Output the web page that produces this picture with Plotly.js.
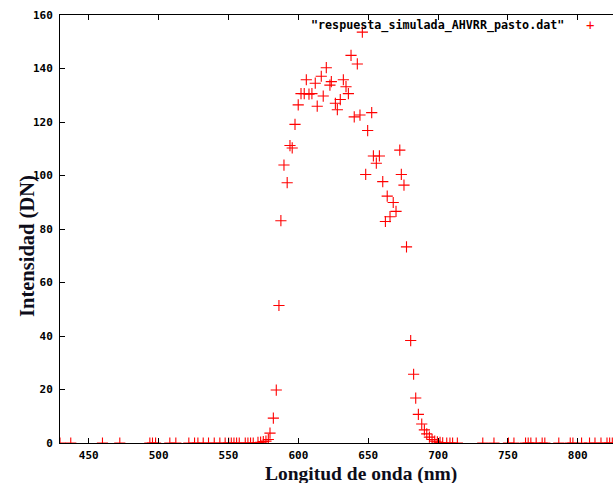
<!DOCTYPE html>
<html>
<head>
<meta charset="utf-8">
<script src="https://cdn.plot.ly/plotly-3.0.1.min.js"></script>
<style>html,body{margin:0;padding:0;background:#fff;}#chart{width:613px;height:483px;}</style>
</head>
<body>
<div id="chart"></div>
<script>
// Wavelength (nm)
const wavelength = [
  429.4, 437.1, 459.8, 472.2, 493.7, 495.6, 497.8, 508.0, 512.3, 521.6,
  525.7, 528.1, 531.9, 535.7, 539.8, 543.8, 547.6, 550.1, 552.0, 553.9,
  555.8, 557.7, 562.0, 563.9, 565.8, 567.7, 571.1, 573.0, 574.9, 576.8,
  578.5, 579.7, 582.1, 584.2, 586.1, 587.5, 589.7, 592.0, 594.0, 595.6,
  597.6, 599.9, 601.9, 604.2, 605.7, 607.6, 609.7, 612.1, 613.5, 616.4,
  617.8, 620.0, 622.6, 623.6, 626.5, 627.9, 630.0, 632.2, 634.1, 635.8,
  637.7, 640.0, 642.2, 644.1, 645.8, 648.2, 649.6, 652.5, 653.7, 655.8,
  658.0, 660.4, 662.3, 663.6, 665.6, 667.9, 669.9, 672.6, 673.7, 675.6,
  677.4, 680.4, 682.5, 684.0, 685.9, 688.3, 690.2, 691.9, 693.8, 695.7,
  697.6, 699.5, 701.4, 703.3, 706.2, 708.5, 710.4, 713.8, 732.0, 740.0,
  750.4, 754.3, 762.6, 764.5, 766.4, 770.2, 774.5, 776.4, 786.4, 794.6,
  796.5, 802.7, 808.4, 812.3, 816.6, 820.9, 822.8, 824.7
];
// Intensity (DN)
const intensity = [
  0, 0, 0, 0, 0, 0, 0, 0, 0, 0,
  0, 0, 0, 0, 0, 0, 0, 0, 0, 0,
  0, 0, 0, 0, 0, 0, 0.2, 0.3, 0.5, 0.7,
  1.3, 3.7, 9.3, 19.8, 51.4, 83.1, 103.9, 97.3, 111.2, 110.3,
  119.1, 126.4, 130.6, 130.6, 135.8, 130.4, 130.6, 134.5, 125.9, 137.1,
  129.7, 140.3, 133.8, 135.1, 127.0, 124.6, 128.4, 135.8, 133.2, 130.6,
  144.9, 121.9, 141.7, 122.6, 153.6, 100.4, 116.8, 123.5, 107.3, 104.6,
  107.3, 97.7, 82.8, 92.3, 84.6, 89.9, 86.6, 109.5, 100.4, 96.4,
  73.3, 38.3, 25.7, 16.8, 10.7, 7.1, 4.9, 3.4, 2.2, 1.3,
  0.7, 0.4, 0.2, 0.1, 0, 0, 0, 0, 0, 0,
  0, 0, 0, 0, 0, 0, 0, 0, 0, 0,
  0, 0, 0, 0, 0, 0, 0, 0
];
const xTicks = [450, 500, 550, 600, 650, 700, 750, 800];
const yTicks = [0, 20, 40, 60, 80, 100, 120, 140, 160];
const seriesName = '"respuesta_simulada_AHVRR_pasto.dat"';
const xTitle = 'Longitud de onda (nm)';
const yTitle = 'Intensidad (DN)';

const tickFont = {family: 'DejaVu Sans Mono, monospace', size: 11, color: '#000', weight: 'bold'};
const titleFont = {family: 'Liberation Serif, DejaVu Serif, serif', size: 20.5, color: '#0d0d1a', weight: 'bold'};
const xTitleFont = {family: 'Liberation Serif, DejaVu Serif, serif', size: 19.5, color: '#0d0d1a', weight: 'bold'};

const trace = {
  x: wavelength,
  y: intensity,
  type: 'scatter',
  mode: 'markers',
  name: seriesName,
  showlegend: false,
  marker: {symbol: 'cross-thin', size: 8, color: '#ff0000', line: {width: 1.1, color: '#ff0000'}}
};

const layout = {
  width: 613,
  height: 483,
  margin: {l: 60, r: 0, t: 15, b: 40},
  paper_bgcolor: '#ffffff',
  plot_bgcolor: '#ffffff',
  showlegend: false,
  xaxis: {
    range: [429.4, 825.2],
    tickvals: xTicks,
    ticktext: xTicks.map(String),
    ticks: 'inside',
    ticklen: 5,
    tickwidth: 1,
    tickcolor: '#000',
    showline: true,
    linecolor: '#000',
    linewidth: 1,
    mirror: 'ticks',
    showgrid: false,
    zeroline: false,
    tickfont: tickFont,
    ticklabelstandoff: 2
  },
  yaxis: {
    range: [0, 160],
    tickvals: yTicks,
    ticktext: yTicks.map(String),
    ticks: 'inside',
    ticklen: 5,
    tickwidth: 1,
    tickcolor: '#000',
    showline: true,
    linecolor: '#000',
    linewidth: 1,
    mirror: false,
    showgrid: false,
    zeroline: false,
    tickfont: tickFont,
    ticklabelstandoff: 4
  },
  annotations: [
    {xref: 'paper', yref: 'paper', x: 0.915, y: 0.976, xanchor: 'right', yanchor: 'middle',
     text: seriesName, showarrow: false,
     font: {family: 'DejaVu Sans Mono, monospace', size: 11.7, color: '#000', weight: 'bold'}},
    {xref: 'paper', yref: 'paper', x: 0.958, y: 0.976, xanchor: 'center', yanchor: 'middle',
     text: '+', showarrow: false,
     font: {family: 'DejaVu Sans Mono, monospace', size: 14, color: '#ff0000'}},
    {xref: 'paper', yref: 'paper', x: 0.545, y: -0.0725, xanchor: 'center', yanchor: 'middle',
     text: xTitle, showarrow: false, font: xTitleFont},
    {xref: 'paper', yref: 'paper', x: -0.06, y: 0.46, xanchor: 'center', yanchor: 'middle',
     textangle: -90, text: yTitle, showarrow: false, font: titleFont}
  ]
};

Plotly.newPlot('chart', [trace], layout, {displayModeBar: false, staticPlot: true});
</script>
</body>
</html>
